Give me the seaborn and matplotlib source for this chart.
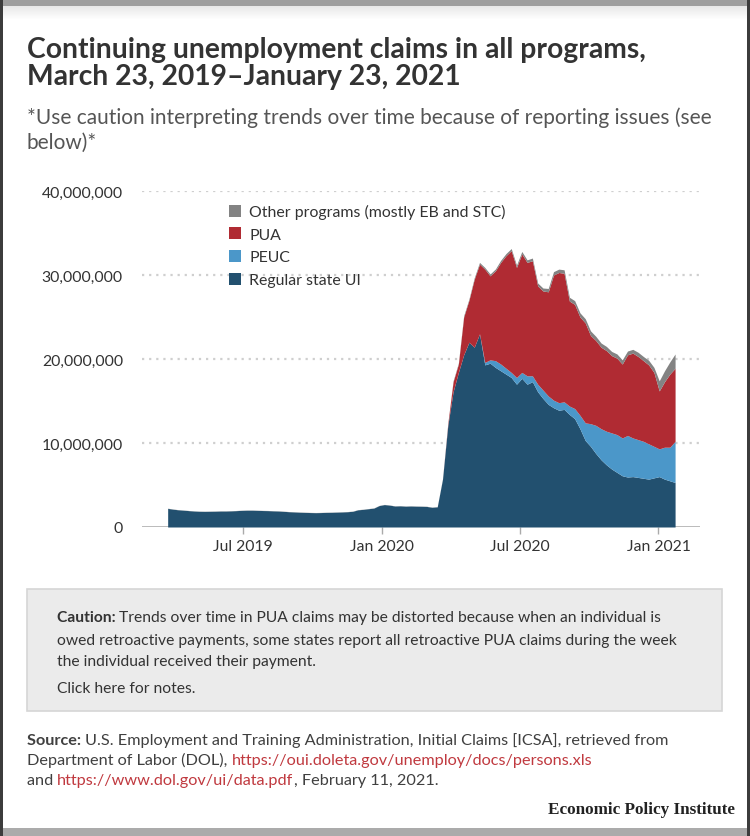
import numpy as np
import pandas as pd
import matplotlib
matplotlib.use("Agg")
import matplotlib.pyplot as plt
from matplotlib.patches import Rectangle, Patch
from matplotlib.ticker import FuncFormatter
import seaborn as sns

# ---------------- data (weekly, millions of continuing claims) ----------------
week_start = "2019-03-23"
week_end = "2021-01-23"

regular_state_ui = [
    2.22, 2.12, 2.05, 2.00, 1.95, 1.90, 1.87, 1.86, 1.87, 1.88, 1.90, 1.90, 1.92,
    1.95, 1.98, 2.00, 2.00, 1.98, 1.96, 1.95, 1.92, 1.90, 1.86, 1.82, 1.79, 1.76,
    1.74, 1.72, 1.71, 1.72, 1.74, 1.75, 1.77, 1.79, 1.82, 1.87, 2.05, 2.10, 2.18,
    2.25, 2.55, 2.67, 2.60, 2.50, 2.52, 2.48, 2.50, 2.48, 2.47, 2.45, 2.35, 2.40,
    5.7, 12.1, 16.1, 18.4, 20.5, 22.0, 21.4, 23.0, 19.3, 19.5, 19.0, 18.6, 18.2,
    17.8, 17.0, 17.7, 17.0, 17.3, 16.1, 15.3, 14.6, 14.2, 13.9, 14.0, 13.4, 12.9,
    11.7, 10.3, 9.6, 8.75, 8.0, 7.4, 6.9, 6.5, 6.1, 5.95, 6.0, 5.9, 5.8, 5.7,
    5.85, 6.0, 5.7, 5.5, 5.3,
]
peuc = [0.0] * 60 + [
    0.3, 0.4, 0.8, 0.8, 0.7, 0.6, 0.8, 0.7, 1.0, 0.7, 0.9, 1.0, 1.0, 0.9, 0.9,
    0.9, 1.0, 1.2, 1.6, 2.1, 2.7, 3.35, 3.7, 4.0, 4.3, 4.5, 4.5, 4.95, 4.6, 4.5,
    4.4, 4.2, 3.75, 3.3, 3.8, 4.0, 4.9,
]
pua = [0.0] * 52 + [
    0.0, 0.2, 1.2, 1.0, 4.5, 5.0, 8.1, 8.3, 11.1, 10.0, 10.7, 12.1, 13.4, 14.5,
    13.1, 14.1, 13.5, 13.7, 11.7, 11.8, 12.4, 14.9, 15.5, 15.3, 12.5, 12.4, 11.7,
    11.9, 10.5, 10.1, 9.7, 9.6, 9.2, 9.1, 8.8, 9.6, 10.1, 9.9, 9.6, 9.4, 8.8,
    6.9, 7.8, 8.7, 8.7,
]
other_programs = [0.02] * 52 + [
    0.05, 0.06, 0.10, 0.12, 0.15, 0.15, 0.18, 0.20, 0.20, 0.22, 0.22, 0.25, 0.25,
    0.25, 0.28, 0.30, 0.30, 0.32, 0.35, 0.35, 0.40, 0.40, 0.40, 0.42, 0.45, 0.45,
    0.50, 0.50, 0.55, 0.50, 0.50, 0.50, 0.50, 0.50, 0.50, 0.45, 0.45, 0.50, 0.50,
    0.55, 0.60, 1.20, 1.30, 1.45, 1.70,
]

series_labels = ["Regular state UI", "PEUC", "PUA", "Other programs (mostly EB and STC)"]
series_colors = ["#22506f", "#4b97c9", "#b02b33", "#838383"]
y_ticks = [0, 10_000_000, 20_000_000, 30_000_000, 40_000_000]
x_tick_dates = ["2019-07-01", "2020-01-01", "2020-07-01", "2021-01-01"]
x_tick_labels = ["Jul 2019", "Jan 2020", "Jul 2020", "Jan 2021"]

title_lines = ["Continuing unemployment claims in all programs,",
               "March 23, 2019\u2013January 23, 2021"]
subtitle_lines = ["*Use caution interpreting trends over time because of reporting issues (see",
                  "below)*"]

# ---------------- figure ----------------
W, H = 750, 837
sns.set_theme(style="white")
plt.rcParams["font.family"] = ["Lato", "DejaVu Sans"]

fig = plt.figure(figsize=(W / 100, H / 100), dpi=100)
fig.patch.set_facecolor("white")


def fx(px):
    return px / W


def fy(py):
    return 1 - py / H


# screenshot frame
fig.patches.append(Rectangle((0, fy(7)), 1, 7 / H, transform=fig.transFigure,
                             facecolor="#9e9e9e", edgecolor="none", zorder=0))
for i in range(14):
    shade = 0.91 + 0.09 * i / 13
    fig.patches.append(Rectangle((0, fy(8 + i)), 1, 1 / H, transform=fig.transFigure,
                                 facecolor=(shade, shade, shade), edgecolor="none", zorder=0))
fig.patches.append(Rectangle((0, fy(837)), 1, 8 / H, transform=fig.transFigure,
                             facecolor="#ababab", edgecolor="none", zorder=0))
fig.patches.append(Rectangle((0, 0), 2.5 / W, 1, transform=fig.transFigure,
                             facecolor="#3c3c3c", edgecolor="none", zorder=1))
fig.patches.append(Rectangle((fx(747), 0), 3 / W, 1, transform=fig.transFigure,
                             facecolor="#3c3c3c", edgecolor="none", zorder=1))

renderer = fig.canvas.get_renderer()


def text_width(s, size, weight="normal"):
    t = fig.text(0, 0, s, fontsize=size, fontweight=weight)
    w = t.get_window_extent(renderer).width
    t.remove()
    return w


def advance(s, size, weight="normal"):
    # advance width of s (includes trailing spaces)
    return text_width(s + "x", size, weight) - text_width("x", size, weight)


def runs_width(parts, size):
    return sum(advance(s, size, w) for s, w, c in parts)


def draw_runs(x, y, parts, size):
    cur = x
    for s, w, c in parts:
        fig.text(fx(cur), fy(y), s, fontsize=size, fontweight=w, color=c,
                 va="baseline", ha="left")
        cur += advance(s, size, w)
    return cur


def fit(parts, target, base=10.0):
    return base * target / runs_width(parts, base)


# title
ts = fit([(title_lines[0], "bold", "#333")], 618)
fig.text(fx(27), fy(58), title_lines[0], fontsize=ts, fontweight="bold", color="#333333",
         va="baseline")
fig.text(fx(27), fy(85), title_lines[1], fontsize=ts, fontweight="bold", color="#333333",
         va="baseline")

# subtitle
ss = fit([(subtitle_lines[0], "normal", "#555")], 688)
fig.text(fx(27), fy(124), subtitle_lines[0], fontsize=ss, color="#555555", va="baseline")
fig.text(fx(27), fy(149), subtitle_lines[1], fontsize=ss, color="#555555", va="baseline")

# ---------------- chart ----------------
ax = fig.add_axes([fx(142), fy(528), (700 - 142) / W, (528 - 192) / H])
dates = pd.date_range(week_start, week_end, freq="7D")
df = pd.DataFrame({
    "Regular state UI": regular_state_ui,
    "PEUC": peuc,
    "PUA": pua,
    "Other programs (mostly EB and STC)": other_programs,
}, index=dates) * 1_000_000

ax.stackplot(df.index, *[df[c].values for c in series_labels], colors=series_colors,
             linewidth=0, zorder=3, antialiased=True)

ax.set_xlim(pd.Timestamp("2019-02-17"), pd.Timestamp("2021-02-25"))
ax.set_ylim(0, 40_000_000)
for v in y_ticks[1:]:
    ax.axhline(v, color="#cfcfcf", lw=1.6, ls=(0, (1, 2.2)), zorder=1)
ax.axhline(0, color="#b5b5b5", lw=1.3, zorder=1)

ax.set_yticks(y_ticks)
ax.yaxis.set_major_formatter(FuncFormatter(lambda v, p: f"{int(v):,}"))
ax.set_xticks(pd.to_datetime(x_tick_dates))
ax.set_xticklabels(x_tick_labels)
ax.tick_params(axis="y", length=0, pad=13.7, labelsize=11.4, labelcolor="#333333")
ax.tick_params(axis="x", bottom=True, length=5, width=1, color="#aaaaaa", pad=4,
               labelsize=11.3, labelcolor="#333333")
for s in ax.spines.values():
    s.set_visible(False)
ax.grid(False)
ax.set_facecolor("none")

handles = [Patch(facecolor=c, edgecolor="none") for c in series_colors][::-1]
labels = series_labels[::-1]
leg = ax.legend(handles, labels, loc="upper left",
                bbox_to_anchor=((229 - 142) / 558, (528 - 205) / 336),
                frameon=False, fontsize=11.4, handlelength=0.78, handleheight=0.78,
                handletextpad=0.5, labelspacing=0.52, borderpad=0, borderaxespad=0)
for t in leg.get_texts():
    t.set_color("#333333")

# ---------------- caution box ----------------
fig.patches.append(Rectangle((fx(27), fy(712)), (722 - 27) / W, (712 - 590) / H,
                             transform=fig.transFigure, facecolor="#ebebeb",
                             edgecolor="#d6d6d6", lw=1.2, zorder=0))
c1 = [("Caution: ", "bold", "#333333"),
      ("Trends over time in PUA claims may be distorted because when an individual is",
       "normal", "#333333")]
cs = fit(c1, 605)
draw_runs(57, 622, c1, cs)
draw_runs(57, 645, [("owed retroactive payments, some states report all retroactive PUA claims during the week",
                     "normal", "#333333")], cs)
draw_runs(57, 666, [("the individual received their payment.", "normal", "#333333")], cs)
draw_runs(57, 693, [("Click here for notes.", "normal", "#333333")], cs)

# ---------------- source ----------------
red = "#c0393f"
gray = "#404040"
s1 = [("Source: ", "bold", gray),
      ("U.S. Employment and Training Administration, Initial Claims [ICSA], retrieved from",
       "normal", gray)]
srs = fit(s1, 640)
draw_runs(27, 745, s1, srs)
draw_runs(27, 765, [("Department of Labor (DOL), ", "normal", gray),
                    ("https://oui.doleta.gov/unemploy/docs/persons.xls", "normal", red)], srs)
line3_pre, line3_url, line3_post = "and ", "https://www.dol.gov/ui/data.pdf", ", February 11, 2021."
draw_runs(27, 785, [(line3_pre, "normal", gray), (line3_url, "normal", red)], srs)
end3 = 27 + text_width(line3_pre + line3_url + line3_post, srs)
fig.text(fx(end3), fy(785), line3_post, fontsize=srs, color=gray, ha="right", va="baseline")

# logo
fig.text(fx(735), fy(814), "Economic Policy Institute", fontsize=12.3, fontweight="bold",
         family=["Liberation Serif", "DejaVu Serif"], color="#222222", ha="right",
         va="baseline")

fig.savefig("out.png", dpi=100, facecolor="white")
